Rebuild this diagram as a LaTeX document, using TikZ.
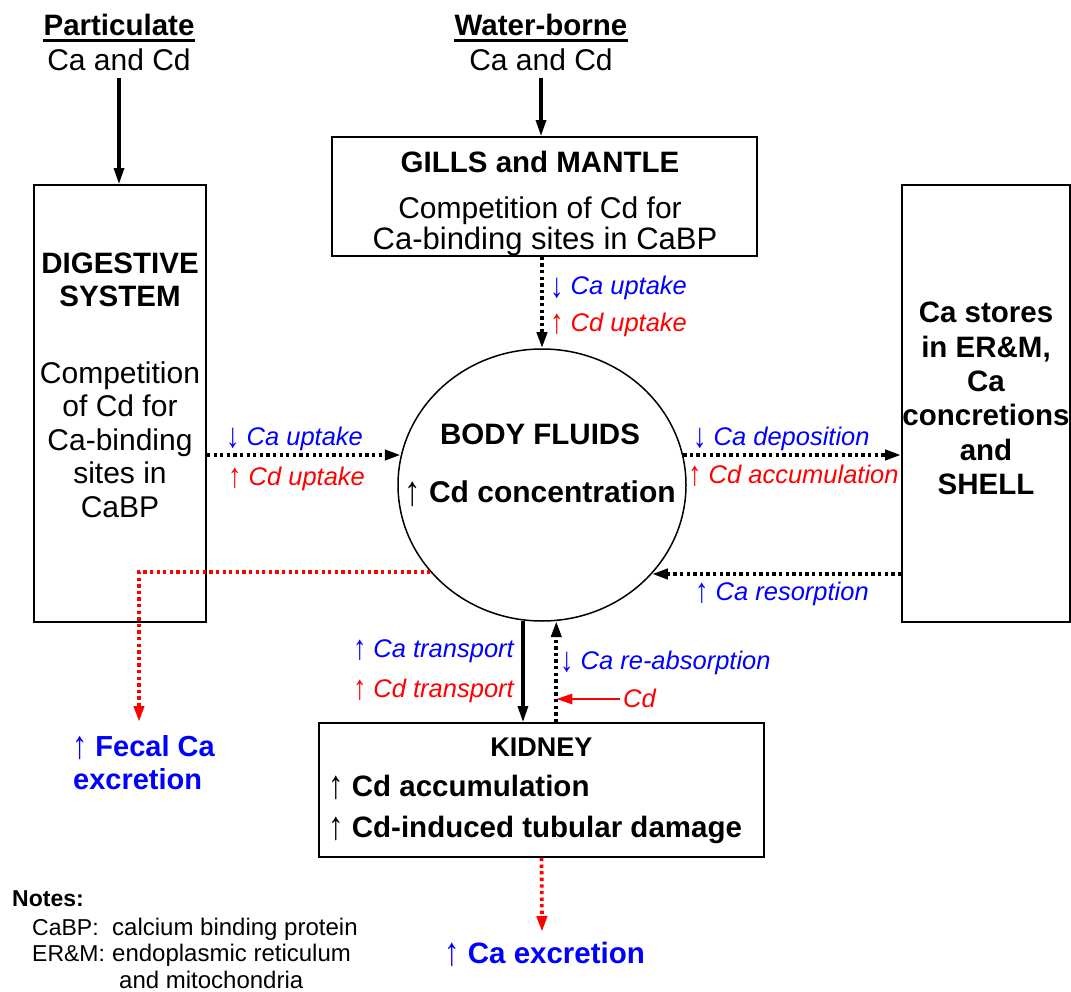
\documentclass[tikz,border=0pt]{standalone}
\usepackage{fontspec}
\usepackage{graphicx}
\setmainfont{Liberation Sans}
\usetikzlibrary{arrows.meta,shapes.geometric}
\definecolor{cblue}{RGB}{0,0,255}
\definecolor{cred}{RGB}{255,0,0}
\newcommand\fsReg{\fontsize{30}{34}\selectfont}
\newcommand\fsBold{\fontsize{29.5}{34}\selectfont\bfseries}
\newcommand\fsLab{\fontsize{25.5}{30}\selectfont\itshape}
\newcommand\fsNote{\fontsize{24}{28}\selectfont}
\newcommand\uarr{\raisebox{-0.1em}{\scalebox{1.05}[1.35]{\upshape\mdseries ↑}}}
\newcommand\darr{\raisebox{-0.1em}{\scalebox{1.05}[1.35]{\upshape\mdseries ↓}}}
\newcommand\buarr{\raisebox{-0.12em}{\scalebox{1.1}[1.4]{\upshape\bfseries ↑}}}
\begin{document}
\begin{tikzpicture}[x=1pt,y=-1pt,
  box/.style={draw, line width=1.8pt, inner sep=0pt},
  txt/.style={inner sep=0pt, anchor=base},
  txtl/.style={inner sep=0pt, anchor=base west},
  txtr/.style={inner sep=0pt, anchor=base east},
  solidarrow/.style={line width=3.1pt, -{Triangle[length=16pt,width=10pt]}},
  dotarrow/.style={line width=3.8pt, dash pattern=on 3.3pt off 3.3pt, -{Triangle[length=16pt,width=10pt]}},
  reddot/.style={dotarrow, cred},
  redsolid/.style={line width=2.8pt, cred, -{Triangle[length=16pt,width=10pt]}},
  blab/.style={font=\fsLab, text=cblue},
  rlab/.style={font=\fsLab, text=cred}
]
\useasboundingbox (0,0) rectangle (1071,992);

% boxes
\node[box, minimum width=172pt, minimum height=437pt] (dig) at (120,403.5) {};
\node[box, minimum width=425pt, minimum height=119pt] (gills) at (544.5,196.5) {};
\node[box, minimum width=168pt, minimum height=437pt] (store) at (986,403.5) {};
\node[box, minimum width=445pt, minimum height=134pt] (kid) at (541.5,790) {};
\node[draw, ellipse, line width=1.5pt, minimum width=288pt, minimum height=272pt, inner sep=0pt] (body) at (542,485) {};

% sources
\node[txt, font=\fsBold] (pt) at (119,36) {Particulate};
\node[txt, font=\fsReg] (pcd) at (119,71) {Ca and Cd};
\node[txt, font=\fsBold] (wt) at (541,36) {Water-borne};
\node[txt, font=\fsReg] (wcd) at (541,71) {Ca and Cd};
\draw[line width=2.2pt] ([yshift=-4.5pt]pt.base west) -- ([yshift=-4.5pt]pt.base east);
\draw[line width=2.2pt] ([yshift=-4.5pt]wt.base west) -- ([yshift=-4.5pt]wt.base east);

% gills text
\node[txt, font=\fsBold] (g1) at (540,173) {GILLS and MANTLE};
\node[txt, font=\fsReg] (g2) at (540,219) {Competition of Cd for};
\node[txt, font=\fontsize{31}{34}\selectfont] (g3) at (545,250) {Ca-binding sites in CaBP};

% digestive text
\node[txt, font=\fsBold] (d1) at (120,274) {DIGESTIVE};
\node[txt, font=\fsBold] (d2) at (120,307) {SYSTEM};
\node[txt, font=\fsReg] (d3) at (120,383) {Competition};
\node[txt, font=\fsReg] (d4) at (120,416.5) {of Cd for};
\node[txt, font=\fsReg] (d5) at (120,450) {Ca-binding};
\node[txt, font=\fsReg] (d6) at (120,483.5) {sites in};
\node[txt, font=\fsReg] (d7) at (120,517) {CaBP};

% stores text
\node[txt, font=\fsBold] (s1) at (986,323) {Ca stores};
\node[txt, font=\fsBold] (s2) at (986,357) {in ER\&M,};
\node[txt, font=\fsBold] (s3) at (986,391.5) {Ca};
\node[txt, font=\fsBold] (s4) at (986,425.5) {concretions};
\node[txt, font=\fsBold] (s5) at (986,460) {and};
\node[txt, font=\fsBold] (s6) at (986,494) {SHELL};

% body fluids text
\node[txt, font=\fsBold] (b1) at (540,444) {BODY FLUIDS};
\node[txt, font=\fontsize{30}{34}\selectfont\bfseries] (b2) at (540,502) {\buarr\ Cd concentration};

% kidney text
\node[txt, font=\fontsize{27}{30}\selectfont\bfseries] (k1) at (541.5,756) {KIDNEY};
\node[txtl, font=\fsBold] (k2) at (328,796) {\uarr\ Cd accumulation};
\node[txtl, font=\fsBold] (k3) at (328,837) {\uarr\ Cd-induced tubular damage};

% labels
\node[txtl, blab] (l1) at (550,295) {\darr\ Ca uptake};
\node[txtl, rlab] (l2) at (550,331) {\uarr\ Cd uptake};
\node[txtl, blab] (l3) at (226,445) {\darr\ Ca uptake};
\node[txtl, rlab] (l4) at (228,485) {\uarr\ Cd uptake};
\node[txtl, blab] (l5) at (693,445) {\darr\ Ca deposition};
\node[txtl, rlab] (l6) at (688,483) {\uarr\ Cd accumulation};
\node[txtl, blab] (l7) at (695,600) {\uarr\ Ca resorption};
\node[txtr, blab] (l8) at (514,657) {\uarr\ Ca transport};
\node[txtr, rlab] (l9) at (514,697) {\uarr\ Cd transport};
\node[txtl, blab] (l10) at (560,669) {\darr\ Ca re-absorption};
\node[txtl, rlab] (l11) at (623,707) {Cd};

% outputs
\node[txtl, font=\fontsize{29}{33}\selectfont\bfseries, text=cblue] (f1) at (72,756) {\uarr\ Fecal Ca};
\node[txtl, font=\fontsize{29}{33}\selectfont\bfseries, text=cblue] (f2) at (73,789) {excretion};
\node[txtl, font=\fsBold, text=cblue] (ce) at (444,963) {\uarr\ Ca excretion};

% notes
\node[txtl, font=\fontsize{23}{27}\selectfont\bfseries] (n0) at (12,906) {Notes:};
\node[txtl, font=\fontsize{23}{27}\selectfont] (n1) at (32,935) {CaBP:};
\node[txtl, font=\fsNote] (n2) at (112,935) {calcium binding protein};
\node[txtl, font=\fontsize{23}{27}\selectfont] (n3) at (32,961) {ER\&M:};
\node[txtl, font=\fsNote] (n4) at (112,961) {endoplasmic reticulum};
\node[txtl, font=\fsNote] (n5) at (119,988) {and mitochondria};

% connectors
\draw[solidarrow, shorten <=7pt] (pcd.south) -- (pcd.south |- dig.north);
\draw[solidarrow, shorten <=7pt] (wcd.south) -- (wcd.south |- gills.north);
\draw[dotarrow] (gills.south -| body.north) -- (body.north);
\draw[dotarrow] (dig.east |- body.168.35) -- (body.168.35);
\draw[dotarrow] (body.12.05) -- (body.12.05 -| store.west);
\draw[dotarrow] (store.west |- body.321.8) -- (body.321.8);
\draw[solidarrow] (body.262) -- (body.262 |- kid.north);
\draw[dotarrow] (body.276.3 |- kid.north) -- (body.276.3);
\coordinate (cdstart) at (620,699);
\draw[redsolid] (cdstart) -- (cdstart -| body.276.3);
\coordinate (fectip) at (139,722);
\draw[reddot] (body.218.17) -| (fectip);
\coordinate (caextip) at (542,932);
\draw[reddot] (kid.south) -- (caextip);
\end{tikzpicture}
\end{document}
